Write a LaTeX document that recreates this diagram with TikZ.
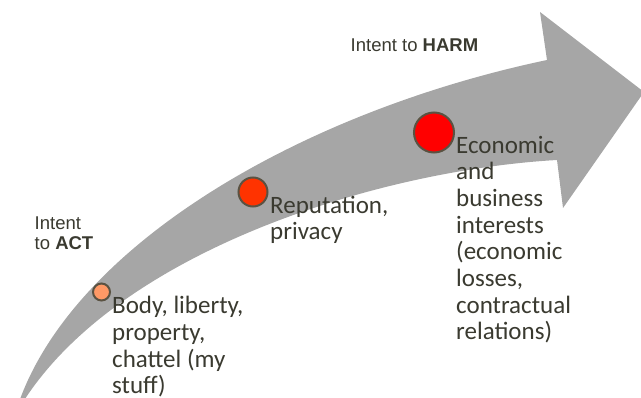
\documentclass[tikz,border=0pt]{standalone}
\usepackage{fontspec}
\setmainfont{Carlito}
\newfontfamily\arialfont{Liberation Sans}
\definecolor{bandgray}{HTML}{A6A6A6}
\definecolor{dotline}{HTML}{5A5242}
\definecolor{dotA}{HTML}{FF9966}
\definecolor{dotB}{HTML}{FF3300}
\definecolor{dotC}{HTML}{FF0000}
\definecolor{txt}{HTML}{3A3A30}
\begin{document}
\begin{tikzpicture}[x=1pt,y=-1pt,
  dotstyle/.style={circle,draw=dotline,line width=2pt,inner sep=0pt},
  bodytext/.style={align=left,inner sep=0pt,anchor=base west,text=txt,
    font=\fontsize{25}{26.7}\selectfont},
  intent/.style={align=left,inner sep=0pt,anchor=base west,text=txt,
    font=\arialfont\fontsize{18.5}{20}\selectfont}]
\useasboundingbox (0,0) rectangle (641,398);
% curved arrow band
\fill[bandgray] (19,402) .. controls (75,245) and (300,112) .. (547,60)
  -- (540,12) -- (644,92) -- (563,208) -- (557,160)
  .. controls (380,170) and (120,250) .. (23,402) -- cycle;
% dots
\node[dotstyle,fill=dotA,minimum size=17pt] (d1) at (101.5,292) {};
\node[dotstyle,fill=dotB,minimum size=29pt] (d2) at (253,192) {};
\node[dotstyle,fill=dotC,minimum size=40pt] (d3) at (434,132.5) {};
% labels (anchored at the baseline of their last line)
\node[bodytext] (t1) at (112,394) {Body, liberty,\\property,\\chattel (my\\stuff)};
\node[bodytext] (t2) at (270,240) {Reputation,\\privacy};
\node[bodytext] (t3) at (456,340) {Economic\\and\\business\\interests\\(economic\\losses,\\contractual\\relations)};
\node[intent] (i1) at (34.5,250) {Intent\\to \textbf{ACT}};
\node[intent] (i2) at (350.5,52) {Intent to \textbf{HARM}};
\end{tikzpicture}
\end{document}
